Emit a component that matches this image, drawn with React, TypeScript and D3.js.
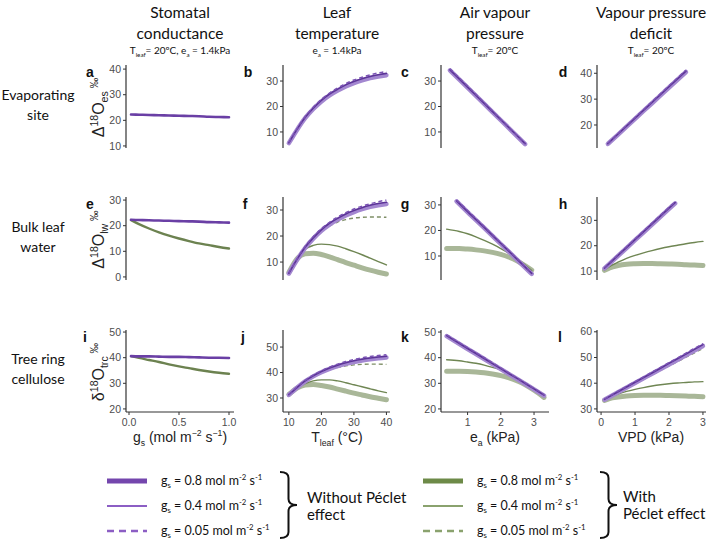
import React from "react";
import * as d3 from "d3";

// stomatal conductance sweep (mol m-2 s-1)
const gsVals = [0.02, 0.1, 0.2, 0.3, 0.4, 0.5, 0.6, 0.7, 0.8, 0.9, 1.0];
const aPurple = [22.3, 22.2, 22.1, 22.0, 21.9, 21.8, 21.7, 21.6, 21.4, 21.3, 21.2];
const ePurple = [22.3, 22.2, 22.1, 22.0, 21.9, 21.8, 21.7, 21.6, 21.4, 21.3, 21.2];
const eGreen = [22.2, 20.6, 18.9, 17.4, 16.1, 15.0, 14.0, 13.1, 12.4, 11.7, 11.1];
const iPurple = [40.6, 40.5, 40.5, 40.4, 40.3, 40.3, 40.2, 40.1, 40.0, 40.0, 39.9];
const iGreen = [40.6, 39.9, 39.1, 38.3, 37.4, 36.6, 35.9, 35.2, 34.6, 34.1, 33.7];

// leaf temperature sweep (°C)
const tleafVals = [10, 12.5, 15, 17.5, 20, 22.5, 25, 27.5, 30, 32.5, 35, 37.5, 40];
const bThick = [5.6, 10.8, 15.4, 19.0, 22.0, 24.4, 26.3, 27.9, 29.2, 30.3, 31.2, 31.8, 32.3];
const bThin = [5.7, 11.0, 15.7, 19.3, 22.4, 24.9, 26.8, 28.5, 29.8, 30.9, 31.8, 32.5, 33.0];
const bDash = [5.8, 11.2, 16.0, 19.7, 22.8, 25.3, 27.3, 29.0, 30.4, 31.5, 32.4, 33.2, 33.8];
const fGreenThick = [6.0, 11.2, 13.2, 13.4, 12.9, 12.0, 10.9, 9.8, 8.8, 7.8, 6.9, 6.1, 5.4];
const fGreenThin = [5.8, 11.3, 14.9, 16.4, 16.9, 16.7, 16.1, 15.1, 14.0, 12.8, 11.5, 10.2, 8.9];
const fGreenDash = [5.7, 10.9, 15.5, 19.0, 21.8, 23.9, 25.4, 26.3, 26.9, 27.2, 27.3, 27.3, 27.2];
const jThick = [31.2, 34.0, 36.5, 38.5, 40.1, 41.4, 42.5, 43.4, 44.1, 44.7, 45.2, 45.6, 45.9];
const jThin = [31.3, 34.1, 36.7, 38.7, 40.4, 41.8, 42.9, 43.8, 44.6, 45.2, 45.7, 46.1, 46.4];
const jDash = [31.4, 34.3, 36.9, 39.0, 40.7, 42.1, 43.3, 44.3, 45.1, 45.8, 46.3, 46.7, 47.0];
const jGreenThick = [31.4, 33.9, 35.1, 35.3, 34.9, 34.3, 33.5, 32.7, 31.9, 31.2, 30.5, 29.9, 29.3];
const jGreenThin = [31.3, 33.8, 35.6, 36.7, 37.1, 37.1, 36.7, 36.0, 35.2, 34.4, 33.6, 32.8, 32.1];
const jGreenDash = [31.2, 34.0, 36.4, 38.3, 39.9, 41.1, 42.0, 42.6, 43.0, 43.2, 43.3, 43.3, 43.2];

// air vapour pressure sweep (kPa)
const eaC = [0.47, 1.0, 1.5, 2.0, 2.5, 2.73];
const cThick = [34.2, 27.4, 21.0, 14.6, 8.2, 5.2];
const cThin = [34.4, 27.6, 21.2, 14.8, 8.4, 5.4];
const cDash = [34.8, 28.0, 21.5, 15.0, 8.5, 5.5];
const eaG = [0.67, 1.0, 1.5, 2.0, 2.5, 2.93];
const gThick = [31.4, 27.2, 21.0, 14.7, 8.4, 3.0];
const gThin = [31.6, 27.4, 21.2, 14.9, 8.6, 3.2];
const gDash = [31.9, 27.8, 21.5, 15.2, 8.8, 3.3];
const gGreenDash = [31.5, 27.3, 21.1, 14.8, 8.5, 3.1];
const eaGGreen = [0.37, 0.75, 1.0, 1.25, 1.5, 1.75, 2.0, 2.25, 2.5, 2.75, 2.93];
const gGreenThick = [12.9, 12.9, 12.7, 12.4, 12.0, 11.4, 10.6, 9.5, 8.0, 6.0, 4.5];
const gGreenThin = [20.5, 19.6, 18.7, 17.5, 16.1, 14.6, 12.9, 11.0, 8.9, 6.3, 4.3];
const eaK = [0.37, 1.0, 1.5, 2.0, 2.5, 3.0, 3.3];
const kThick = [48.4, 43.4, 39.5, 35.5, 31.6, 27.6, 25.2];
const kThin = [48.6, 43.6, 39.7, 35.7, 31.8, 27.8, 25.4];
const kDash = [48.9, 43.9, 40.0, 36.0, 32.0, 28.0, 25.6];
const kGreenDash = [48.2, 43.2, 39.3, 35.3, 31.4, 27.4, 25.0];
const eaKGreen = [0.37, 0.75, 1.0, 1.25, 1.5, 1.75, 2.0, 2.25, 2.5, 2.75, 3.0, 3.3];
const kGreenThick = [34.7, 34.7, 34.6, 34.4, 34.1, 33.6, 33.0, 32.1, 30.9, 29.3, 27.3, 24.5];
const kGreenThin = [39.2, 38.8, 38.3, 37.8, 37.1, 36.2, 35.2, 33.8, 32.0, 30.0, 27.7, 24.8];

// vapour pressure deficit sweep (kPa)
const vpdD = [0.2, 0.5, 1.0, 1.5, 2.0, 2.5];
const dThick = [12.7, 16.3, 22.4, 28.4, 34.5, 40.5];
const dThin = [12.8, 16.5, 22.6, 28.7, 34.8, 40.8];
const dDash = [12.9, 16.7, 22.9, 29.0, 35.2, 41.2];
const vpdH = [0.1, 0.5, 1.0, 1.5, 2.0, 2.18];
const hThick = [11.1, 16.0, 22.2, 28.3, 34.5, 36.7];
const hThin = [11.2, 16.2, 22.4, 28.6, 34.8, 37.0];
const hDash = [11.3, 16.4, 22.7, 28.9, 35.1, 37.3];
const hGreenDash = [11.0, 15.9, 22.1, 28.2, 34.4, 36.6];
const vpdHGreen = [0.1, 0.25, 0.5, 0.75, 1.0, 1.25, 1.5, 1.75, 2.0, 2.25, 2.5, 2.75, 3.0];
const hGreenThick = [10.3, 11.3, 12.2, 12.7, 12.9, 13.0, 13.0, 12.9, 12.8, 12.7, 12.5, 12.4, 12.2];
const hGreenThin = [10.5, 11.8, 13.5, 15.0, 16.2, 17.2, 18.1, 18.9, 19.6, 20.2, 20.8, 21.3, 21.7];
const vpdL = [0.1, 0.5, 1.0, 1.5, 2.0, 2.5, 3.0];
const lThick = [33.6, 36.5, 40.1, 43.7, 47.3, 50.9, 54.5];
const lThin = [33.7, 36.7, 40.4, 44.0, 47.7, 51.3, 55.0];
const lDash = [33.8, 36.9, 40.6, 44.3, 48.0, 51.7, 55.4];
const lGreenDash = [33.6, 36.3, 39.8, 43.2, 46.7, 50.1, 53.5];
const vpdLGreen = [0.1, 0.25, 0.5, 0.75, 1.0, 1.25, 1.5, 1.75, 2.0, 2.25, 2.5, 2.75, 3.0];
const lGreenThick = [33.3, 34.0, 34.6, 35.0, 35.2, 35.3, 35.3, 35.3, 35.2, 35.1, 35.0, 34.9, 34.7];
const lGreenThin = [33.5, 34.6, 35.8, 36.8, 37.6, 38.3, 38.9, 39.4, 39.8, 40.1, 40.3, 40.5, 40.6];

const legendLabels = ["0.8", "0.4", "0.05"];

const styles: Record<string, { stroke: string; width: number; dash?: string }> = {
  gThick: { stroke: "#a9b798", width: 5 },
  gThin: { stroke: "#6f8653", width: 1.4 },
  gDash: { stroke: "#7e8e66", width: 1.4, dash: "4 3" },
  pThick: { stroke: "#a387d0", width: 4.5 },
  pThin: { stroke: "#5c3497", width: 1.6 },
  pDash: { stroke: "#7a53b3", width: 1.5, dash: "4 3" },
  pSingle: { stroke: "#6a3fa5", width: 2.6 },
  gSingle: { stroke: "#6c8250", width: 2.4 },
};

const cols = [
  { axisX: 126, right: 234, domain: [-0.03, 1.05], ticks: [0, 0.5, 1], fmt: d3.format(".1f"), center: 180 },
  { axisX: 283, right: 390, domain: [8.2, 41.1], ticks: [10, 20, 30, 40], fmt: d3.format("d"), center: 337 },
  { axisX: 441, right: 549, domain: [0.2, 3.45], ticks: [1, 2, 3], fmt: d3.format("d"), center: 495 },
  { axisX: 597, right: 706, domain: [-0.12, 3.09], ticks: [0, 1, 2, 3], fmt: d3.format("d"), center: 651 },
];
const rows = [
  { top: 65, bottom: 148 },
  { top: 197, bottom: 280 },
  { top: 330, bottom: 412 },
];

type S = { x: number[]; y: number[]; k: string };
type Panel = { id: string; row: number; col: number; yDomain: number[]; yTicks: number[]; lx: number; series: S[] };

const panels: Panel[] = [
  { id: "a", row: 0, col: 0, yDomain: [9.2, 41.6], yTicks: [10, 20, 30, 40], lx: 90,
    series: [{ x: gsVals, y: aPurple, k: "pSingle" }] },
  { id: "b", row: 0, col: 1, yDomain: [3.7, 36.3], yTicks: [10, 20, 30], lx: 248,
    series: [{ x: tleafVals, y: bThick, k: "pThick" }, { x: tleafVals, y: bThin, k: "pThin" }, { x: tleafVals, y: bDash, k: "pDash" }] },
  { id: "c", row: 0, col: 2, yDomain: [3.7, 36.3], yTicks: [10, 20, 30], lx: 405,
    series: [{ x: eaC, y: cThick, k: "pThick" }, { x: eaC, y: cThin, k: "pThin" }, { x: eaC, y: cDash, k: "pDash" }] },
  { id: "d", row: 0, col: 3, yDomain: [11.1, 43.2], yTicks: [20, 30, 40], lx: 563,
    series: [{ x: vpdD, y: dThick, k: "pThick" }, { x: vpdD, y: dThin, k: "pThin" }, { x: vpdD, y: dDash, k: "pDash" }] },
  { id: "e", row: 1, col: 0, yDomain: [-1.2, 31.2], yTicks: [0, 10, 20, 30], lx: 90,
    series: [{ x: gsVals, y: eGreen, k: "gSingle" }, { x: gsVals, y: ePurple, k: "pSingle" }] },
  { id: "f", row: 1, col: 1, yDomain: [3.1, 35], yTicks: [10, 20, 30], lx: 245,
    series: [
      { x: tleafVals, y: fGreenThick, k: "gThick" }, { x: tleafVals, y: fGreenThin, k: "gThin" }, { x: tleafVals, y: fGreenDash, k: "gDash" },
      { x: tleafVals, y: bThick, k: "pThick" }, { x: tleafVals, y: bThin, k: "pThin" }, { x: tleafVals, y: bDash, k: "pDash" }] },
  { id: "g", row: 1, col: 2, yDomain: [0.6, 33.1], yTicks: [10, 20, 30], lx: 405,
    series: [
      { x: eaGGreen, y: gGreenThick, k: "gThick" }, { x: eaGGreen, y: gGreenThin, k: "gThin" }, { x: eaG, y: gGreenDash, k: "gDash" },
      { x: eaG, y: gThick, k: "pThick" }, { x: eaG, y: gThin, k: "pThin" }, { x: eaG, y: gDash, k: "pDash" }] },
  { id: "h", row: 1, col: 3, yDomain: [6.5, 39.2], yTicks: [10, 20, 30], lx: 563,
    series: [
      { x: vpdHGreen, y: hGreenThick, k: "gThick" }, { x: vpdHGreen, y: hGreenThin, k: "gThin" }, { x: vpdH, y: hGreenDash, k: "gDash" },
      { x: vpdH, y: hThick, k: "pThick" }, { x: vpdH, y: hThin, k: "pThin" }, { x: vpdH, y: hDash, k: "pDash" }] },
  { id: "i", row: 2, col: 0, yDomain: [18.8, 50.8], yTicks: [20, 30, 40, 50], lx: 85,
    series: [{ x: gsVals, y: iGreen, k: "gSingle" }, { x: gsVals, y: iPurple, k: "pSingle" }] },
  { id: "j", row: 2, col: 1, yDomain: [24.5, 56.7], yTicks: [30, 40, 50], lx: 243,
    series: [
      { x: tleafVals, y: jGreenThick, k: "gThick" }, { x: tleafVals, y: jGreenThin, k: "gThin" }, { x: tleafVals, y: jGreenDash, k: "gDash" },
      { x: tleafVals, y: jThick, k: "pThick" }, { x: tleafVals, y: jThin, k: "pThin" }, { x: tleafVals, y: jDash, k: "pDash" }] },
  { id: "k", row: 2, col: 2, yDomain: [18.8, 50.8], yTicks: [20, 30, 40, 50], lx: 405,
    series: [
      { x: eaKGreen, y: kGreenThick, k: "gThick" }, { x: eaKGreen, y: kGreenThin, k: "gThin" }, { x: eaK, y: kGreenDash, k: "gDash" },
      { x: eaK, y: kThick, k: "pThick" }, { x: eaK, y: kThin, k: "pThin" }, { x: eaK, y: kDash, k: "pDash" }] },
  { id: "l", row: 2, col: 3, yDomain: [28.8, 60.7], yTicks: [30, 40, 50, 60], lx: 560,
    series: [
      { x: vpdLGreen, y: lGreenThick, k: "gThick" }, { x: vpdLGreen, y: lGreenThin, k: "gThin" }, { x: vpdL, y: lGreenDash, k: "gDash" },
      { x: vpdL, y: lThick, k: "pThick" }, { x: vpdL, y: lThin, k: "pThin" }, { x: vpdL, y: lDash, k: "pDash" }] },
];

const AX = "Liberation Sans, Arial, sans-serif";
const SANS = "Lato, 'Open Sans', sans-serif";
const axisColor = "#333333";
const tickText = "#4d4d4d";

const PanelView: React.FC<{ p: Panel }> = ({ p }) => {
  const c = cols[p.col];
  const r = rows[p.row];
  const x = d3.scaleLinear().domain(c.domain).range([c.axisX, c.right]);
  const y = d3.scaleLinear().domain(p.yDomain).range([r.bottom, r.top]);
  const line = d3
    .line<[number, number]>()
    .x((d) => x(d[0]))
    .y((d) => y(d[1]))
    .curve(d3.curveMonotoneX);
  const bottomRow = p.row === 2;
  return (
    <g>
      {p.series.map((s, i) => {
        const st = styles[s.k];
        const pts = s.x.map((v, j) => [v, s.y[j]] as [number, number]);
        return (
          <path key={i} d={line(pts) || ""} fill="none" stroke={st.stroke} strokeWidth={st.width}
            strokeDasharray={st.dash} strokeLinecap={st.dash ? "butt" : "round"} strokeLinejoin="round" />
        );
      })}
      <line x1={c.axisX} x2={c.axisX} y1={r.top} y2={r.bottom} stroke={axisColor} strokeWidth={1.2} />
      {p.yTicks.map((t) => (
        <g key={t}>
          <line x1={c.axisX - 3} x2={c.axisX} y1={y(t)} y2={y(t)} stroke={axisColor} strokeWidth={1} />
          <text x={c.axisX - 5} y={y(t) + 3.6} textAnchor="end" fontSize={10.5} fontFamily={AX} fill={tickText}>{t}</text>
        </g>
      ))}
      {bottomRow && (
        <g>
          <line x1={c.axisX} x2={c.right} y1={r.bottom} y2={r.bottom} stroke={axisColor} strokeWidth={1.2} />
          {c.ticks.map((t) => (
            <g key={t}>
              <line x1={x(t)} x2={x(t)} y1={r.bottom} y2={r.bottom + 3} stroke={axisColor} strokeWidth={1} />
              <text x={x(t)} y={r.bottom + 13.5} textAnchor="middle" fontSize={10.5} fontFamily={AX} fill={tickText}>{c.fmt(t)}</text>
            </g>
          ))}
        </g>
      )}
      <text x={p.lx} y={r.top + 12} textAnchor="middle" fontSize={14} fontWeight="bold" fontFamily={AX} fill="#111">{p.id}</text>
    </g>
  );
};

// text runs: "" = normal, "sub" = subscript, "sup" = superscript
type Run = [string, string];

const headers: { l1: string; l2: string; sub: Run[] }[] = [
  { l1: "Stomatal", l2: "conductance", sub: [["T", ""], ["leaf", "sub"], ["= 20ºC, e", ""], ["a", "sub"], [" = 1.4kPa", ""]] },
  { l1: "Leaf", l2: "temperature", sub: [["e", ""], ["a", "sub"], [" = 1.4kPa", ""]] },
  { l1: "Air vapour", l2: "pressure", sub: [["T", ""], ["leaf", "sub"], ["= 20ºC", ""]] },
  { l1: "Vapour pressure", l2: "deficit", sub: [["T", ""], ["leaf", "sub"], ["= 20ºC", ""]] },
];

const rowLabels = [
  ["Evaporating", "site"],
  ["Bulk leaf", "water"],
  ["Tree ring", "cellulose"],
];

const yTitles: Run[][] = [
  [["Δ", ""], ["18", "sup"], ["O", ""], ["es", "sub"], [" ‰", "sup"]],
  [["Δ", ""], ["18", "sup"], ["O", ""], ["lw", "sub"], [" ‰", "sup"]],
  [["δ", ""], ["18", "sup"], ["O", ""], ["trc", "sub"], [" ‰", "sup"]],
];

const Runs: React.FC<{ parts: Run[]; size: number; supScale?: number }> = ({ parts, size, supScale = 0.62 }) => {
  let cur = 0;
  return (
    <>
      {parts.map(([t, kind], i) => {
        const target = kind === "sub" ? size * 0.25 : kind === "sup" ? -size * 0.4 : 0;
        const dy = target - cur;
        cur = target;
        return (
          <tspan key={i} dy={dy || undefined} fontSize={kind ? size * supScale : undefined}>{t}</tspan>
        );
      })}
    </>
  );
};

const Brace: React.FC<{ x: number; y0: number; y1: number; w: number }> = ({ x, y0, y1, w }) => {
  const ym = (y0 + y1) / 2;
  const x1 = x + w * 0.5;
  const x2 = x + w;
  const r = 6;
  const d = `M${x},${y0} Q${x1},${y0} ${x1},${y0 + r} L${x1},${ym - r} Q${x1},${ym} ${x2},${ym} Q${x1},${ym} ${x1},${ym + r} L${x1},${y1 - r} Q${x1},${y1} ${x},${y1}`;
  return <path d={d} fill="none" stroke="#111" strokeWidth={2} />;
};

const legendStyles = {
  left: [
    { stroke: "#7446ad", width: 5, dash: undefined },
    { stroke: "#8c5ec4", width: 2, dash: undefined },
    { stroke: "#8c5ec4", width: 2.5, dash: "7 5" },
  ],
  right: [
    { stroke: "#6d8a48", width: 5, dash: undefined },
    { stroke: "#8aa26e", width: 2, dash: undefined },
    { stroke: "#8aa26e", width: 2.5, dash: "7 5" },
  ],
};
const legendRowY = [481, 506, 531];

const LegendGroup: React.FC<{ x: number; side: "left" | "right"; braceX: number; lines: string[]; textX: number; textY: number[] }> = ({ x, side, braceX, lines, textX, textY }) => (
  <g>
    {legendLabels.map((lab, i) => {
      const st = legendStyles[side][i];
      return (
        <g key={lab}>
          <line x1={x} x2={x + 40} y1={legendRowY[i]} y2={legendRowY[i]} stroke={st.stroke} strokeWidth={st.width} strokeDasharray={st.dash} />
          <text x={x + 54} y={legendRowY[i] + 4} fontSize={12.5} fontFamily={SANS} fill="#111">
            <Runs size={12.5} parts={[["g", ""], ["s", "sub"], [` = ${lab} mol m`, ""], ["-2", "sup"], [" s", ""], ["-1", "sup"]]} />
          </text>
        </g>
      );
    })}
    <Brace x={braceX} y0={472} y1={538} w={17} />
    {lines.map((t, i) => (
      <text key={t} x={textX} y={textY[i]} fontSize={15} fontFamily={SANS} fill="#111">{t}</text>
    ))}
  </g>
);

export default function App() {
  return (
    <svg width={709} height={541} style={{ position: "absolute", left: 0, top: 0, background: "#fff" }}>
      <rect width={709} height={541} fill="#fff" />
      {headers.map((h, i) => (
        <g key={i} fontFamily={SANS} fill="#111" textAnchor="middle">
          <text x={cols[i].center} y={18} fontSize={15.5}>{h.l1}</text>
          <text x={cols[i].center} y={39} fontSize={15.5}>{h.l2}</text>
          <text x={cols[i].center} y={54} fontSize={10}>
            <Runs size={10} parts={h.sub} />
          </text>
        </g>
      ))}
      {rowLabels.map((rl, i) => {
        const cy = (rows[i].top + rows[i].bottom) / 2;
        return (
          <g key={i} fontFamily={SANS} fill="#111" textAnchor="middle" fontSize={14}>
            <text x={38} y={cy - 7}>{rl[0]}</text>
            <text x={38} y={cy + 13}>{rl[1]}</text>
          </g>
        );
      })}
      {yTitles.map((t, i) => {
        const cy = (rows[i].top + rows[i].bottom) / 2 + 1;
        return (
          <text key={i} transform={`translate(104,${cy}) rotate(-90)`} textAnchor="middle" fontFamily={AX} fontSize={16} fill="#222">
            <Runs size={16} parts={t} supScale={0.66} />
          </text>
        );
      })}
      {panels.map((p) => (
        <PanelView key={p.id} p={p} />
      ))}
      <g fontFamily={AX} fill="#222" textAnchor="middle" fontSize={14}>
        <text x={cols[0].center} y={442}>
          <Runs size={14} parts={[["g", ""], ["s", "sub"], [" (mol m", ""], ["−2", "sup"], [" s", ""], ["−1", "sup"], [")", ""]]} />
        </text>
        <text x={cols[1].center} y={442}>
          <Runs size={14} parts={[["T", ""], ["leaf", "sub"], [" (°C)", ""]]} />
        </text>
        <text x={cols[2].center} y={442}>
          <Runs size={14} parts={[["e", ""], ["a", "sub"], [" (kPa)", ""]]} />
        </text>
        <text x={cols[3].center} y={442}>VPD (kPa)</text>
      </g>
      <LegendGroup x={107} side="left" braceX={280} lines={["Without Péclet", "effect"]} textX={307} textY={[503, 520]} />
      <LegendGroup x={423} side="right" braceX={600} lines={["With", "Péclet effect"]} textX={623} textY={[502, 519]} />
    </svg>
  );
}
